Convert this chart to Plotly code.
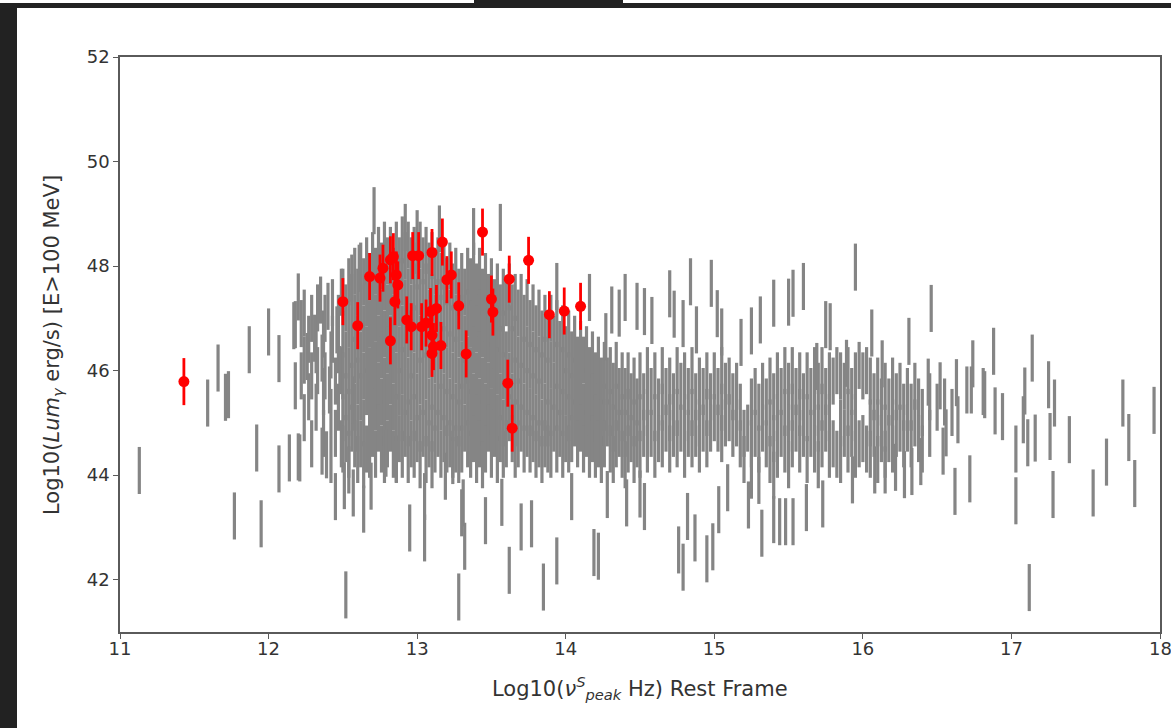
import plotly.graph_objects as go

# ---------------- data ----------------
# dense grey cloud: one x position per column, list of bar centres per column
grey_col_x = [
    12.22, 12.24, 12.27, 12.29, 12.32, 12.33, 12.37, 12.38, 12.42, 12.43, 12.45, 12.47, 12.49,
    12.50, 12.52, 12.54, 12.56, 12.58, 12.60, 12.62, 12.64, 12.66, 12.68, 12.70, 12.72, 12.74,
    12.76, 12.78, 12.80, 12.82, 12.84, 12.86, 12.88, 12.90, 12.92, 12.94, 12.96, 12.98, 13.00,
    13.02, 13.04, 13.06, 13.08, 13.10, 13.12, 13.14, 13.16, 13.18, 13.20, 13.22, 13.24, 13.26,
    13.28, 13.30, 13.32, 13.34,
    13.36, 13.38, 13.40, 13.42, 13.44, 13.46, 13.48, 13.50, 13.52, 13.54, 13.56, 13.58, 13.60,
    13.62, 13.64, 13.66, 13.68, 13.70, 13.72, 13.74, 13.76, 13.78, 13.80, 13.82, 13.84, 13.86,
    13.88, 13.90, 13.92, 13.94, 13.96, 13.98, 14.00, 14.02, 14.04, 14.06, 14.08, 14.10,
    14.12, 14.14, 14.16, 14.18, 14.20, 14.22, 14.24, 14.26, 14.28, 14.30, 14.32, 14.34, 14.36,
    14.38, 14.40, 14.42, 14.44, 14.46, 14.48,
    14.500, 14.525, 14.550, 14.575, 14.600, 14.625, 14.650, 14.675, 14.700, 14.725, 14.750,
    14.775, 14.800, 14.825, 14.850, 14.875, 14.900, 14.925, 14.950, 14.975, 15.000, 15.025,
    15.050, 15.075, 15.100, 15.125, 15.150, 15.175, 15.200, 15.225, 15.250, 15.275, 15.300,
    15.325, 15.350, 15.375, 15.400, 15.425, 15.450, 15.475, 15.500, 15.525, 15.550, 15.575,
    15.600, 15.625, 15.650, 15.675, 15.700, 15.725, 15.750, 15.775, 15.800, 15.825, 15.850,
    15.875, 15.900, 15.925, 15.950, 15.975, 16.000, 16.025, 16.050, 16.075, 16.100, 16.125,
    16.150, 16.175, 16.200, 16.225, 16.250, 16.275, 16.300, 16.325, 16.350, 16.375, 16.400,
    16.450, 16.500, 16.550, 16.600,
]
grey_col_y = [
    [46.9, 45.9], [47.1, 46.2, 45.1], [46.6, 45.5], [47.0, 45.9, 44.6], [46.4, 45.3],
    [47.2, 46.0], [46.7, 45.6, 44.8], [47.0, 45.9], [46.3, 45.2, 44.3], [47.3, 46.6],
    [45.8, 44.8], [47.0, 46.4, 45.3], [47.5, 46.0, 44.6],
    [47.5, 46.7, 45.9, 45.1, 44.5], [47.2, 46.3, 45.5, 44.7], [47.7, 46.9, 46.0, 45.2, 44.4],
    [47.4, 46.5, 45.7, 44.9], [47.9, 47.0, 46.2, 45.3, 44.6], [47.5, 46.6, 45.8, 44.9, 44.3],
    [48.0, 47.2, 46.3, 45.5, 44.6], [47.7, 46.8, 45.9, 45.0], [48.1, 47.3, 46.4, 45.6, 44.5],
    [47.8, 46.9, 46.0, 45.2, 44.4], [48.2, 47.4, 46.5, 45.6, 44.8], [47.9, 47.0, 46.1, 45.3, 44.4],
    [48.3, 47.5, 46.6, 45.7, 44.9], [48.0, 47.1, 46.3, 45.4, 44.5],
    [48.4, 47.6, 46.7, 45.8, 45.0, 44.3], [48.1, 47.2, 46.4, 45.5, 44.6],
    [48.3, 47.5, 46.6, 45.8, 44.9], [47.9, 47.0, 46.2, 45.3, 44.4],
    [48.4, 47.6, 46.8, 45.9, 45.1, 44.3], [48.1, 47.3, 46.4, 45.6, 44.7],
    [48.5, 47.7, 46.8, 46.0, 45.1, 44.4], [48.2, 47.3, 46.5, 45.6, 44.8],
    [48.4, 47.5, 46.7, 45.8, 45.0, 44.3], [48.1, 47.2, 46.3, 45.5, 44.6],
    [48.3, 47.6, 46.8, 45.9, 45.1, 44.4], [48.0, 47.2, 46.4, 45.5, 44.7],
    [48.4, 47.5, 46.6, 45.8, 44.9, 44.2], [48.1, 47.3, 46.5, 45.6, 44.8],
    [48.3, 47.6, 46.7, 45.9, 45.0, 44.3], [48.0, 47.1, 46.3, 45.4, 44.6],
    [48.2, 47.4, 46.6, 45.7, 44.9, 44.2], [47.9, 47.0, 46.2, 45.3, 44.5],
    [48.1, 47.3, 46.5, 45.6, 44.8], [47.8, 47.0, 46.1, 45.3, 44.4],
    [48.0, 47.2, 46.4, 45.5, 44.7], [47.7, 46.9, 46.0, 45.2, 44.5],
    [48.0, 47.1, 46.3, 45.4, 44.6], [47.6, 46.8, 45.9, 45.1, 44.4],
    [47.9, 47.0, 46.2, 45.3, 44.5], [47.5, 46.7, 45.8, 45.0, 44.3],
    [47.8, 47.0, 46.1, 45.3, 44.5], [47.5, 46.6, 45.8, 44.9], [47.9, 47.1, 46.2, 45.4, 44.6],
    [47.7, 46.9, 46.0, 45.2, 44.4], [48.0, 47.2, 46.4, 45.5, 44.7], [47.6, 46.8, 45.9, 45.1, 44.3],
    [47.9, 47.1, 46.3, 45.4, 44.6], [47.5, 46.7, 45.8, 45.0, 44.2], [47.8, 47.0, 46.2, 45.3, 44.5],
    [47.4, 46.6, 45.7, 44.9], [47.7, 46.9, 46.1, 45.2, 44.4], [47.3, 46.5, 45.6, 44.8],
    [47.6, 46.8, 46.0, 45.1, 44.3], [47.2, 46.4, 45.5, 44.7], [47.5, 46.7, 45.9, 45.0, 44.4],
    [47.3, 46.3, 45.4, 44.6], [47.6, 46.8, 45.9, 45.1], [47.2, 46.4, 45.5, 44.7],
    [47.4, 46.6, 45.8, 45.0, 44.4], [47.1, 46.2, 45.4, 44.6], [47.4, 46.5, 45.7, 44.9],
    [47.0, 46.2, 45.3, 44.5], [47.3, 46.4, 45.6, 44.8], [46.9, 46.1, 45.2, 44.5],
    [47.2, 46.3, 45.5, 44.7], [46.8, 46.0, 45.1, 44.4], [47.1, 46.2, 45.4, 44.6],
    [46.7, 45.9, 45.0, 44.3], [47.0, 46.2, 45.3, 44.6], [46.6, 45.8, 45.0, 44.5],
    [47.0, 46.1, 45.2, 44.4], [46.6, 45.7, 44.9], [46.9, 46.1, 45.3, 44.5], [46.5, 45.6, 44.8],
    [46.8, 46.0, 45.2, 44.4], [46.4, 45.6, 44.7], [46.7, 45.9, 45.1, 44.5], [46.3, 45.5, 44.7],
    [46.6, 45.8, 45.0], [46.2, 45.4, 44.6], [46.5, 45.7, 44.9],
    [46.2, 45.3, 44.5], [46.4, 45.6, 44.8], [46.0, 45.2, 44.4], [46.3, 45.5, 44.7],
    [45.9, 45.1, 44.4], [46.2, 45.4, 44.6], [45.8, 45.0, 44.3], [46.1, 45.3, 44.6],
    [45.8, 45.0], [46.0, 45.2, 44.5], [45.7, 44.9, 44.3], [46.1, 45.3, 44.6], [45.6, 44.8],
    [45.9, 45.1, 44.4], [45.6, 44.8, 44.2], [45.9, 45.2, 44.5], [45.5, 44.7], [45.8, 45.0, 44.3],
    [45.4, 44.6],
    [45.9, 45.1, 44.4], [45.5, 44.8], [46.0, 45.2, 44.5], [45.6, 44.8], [45.9, 45.1, 44.4],
    [45.4, 44.7], [46.0, 45.3, 44.6], [45.6, 44.9], [45.8, 45.1, 44.5], [45.5, 44.8],
    [46.0, 45.2, 44.6], [45.7, 44.9], [45.9, 45.1, 44.4], [45.6, 44.8], [46.0, 45.2, 44.6],
    [45.5, 44.8], [45.8, 45.0, 44.5], [45.6, 44.9], [45.9, 45.2, 44.6], [45.5, 44.9],
    [45.9, 45.1], [45.6, 44.9], [46.0, 45.3, 44.7], [45.7, 45.0], [45.8, 45.1], [45.5, 44.8],
    [45.7, 45.0], [45.3, 44.6], [44.8, 44.3], [44.9], [45.4, 44.6, 44.0], [45.6, 44.8],
    [45.3, 44.5, 43.9], [45.7, 44.9], [45.4, 44.6], [45.8, 45.0, 44.3], [45.5, 44.7, 44.0],
    [45.9, 45.1, 44.4], [45.6, 44.8], [46.0, 45.2, 44.5], [45.7, 44.9, 44.2], [46.0, 45.3, 44.6],
    [45.6, 44.9], [45.9, 45.2, 44.5], [45.5, 44.8], [45.9, 45.1, 44.3], [45.6, 44.8],
    [46.0, 45.2, 44.5], [45.7, 44.9, 44.2], [46.0, 45.3, 44.6], [45.6, 44.9], [45.9, 45.1, 44.4],
    [45.8, 44.6], [46.0, 44.4], [45.9, 45.0, 44.3], [45.7, 44.8], [46.0, 45.2, 44.5],
    [45.6, 44.8], [45.9, 45.1, 44.4], [46.1, 44.6], [45.9, 44.7], [46.0, 44.5],
    [45.8, 45.0, 44.4], [45.5, 44.8], [45.8, 45.0, 44.3], [45.4, 44.7], [45.7, 44.9, 44.4],
    [45.4, 44.7], [45.8, 45.0, 44.5], [45.5, 44.8], [45.7, 44.9], [45.3, 44.6], [45.6, 44.9],
    [45.3, 44.6], [45.7, 45.0], [45.4, 44.7], [45.2, 44.5], [45.5, 44.8], [45.3], [45.4], [45.2],
]

# isolated grey sources (outside the dense cloud)
grey_out_x = [
    11.13, 11.59, 11.66, 11.71, 11.73, 11.77, 11.87, 11.92, 11.95, 12.00, 12.07, 12.07, 12.14,
    12.18, 12.18, 12.20, 12.20,
    12.71, 12.92, 13.00, 13.15, 12.35, 12.17, 12.26, 12.31, 12.36, 12.40, 12.41, 12.46, 12.48,
    12.56, 12.61, 12.57, 12.21, 12.36, 12.39, 12.45, 12.51, 12.54, 12.57, 12.64, 12.64, 12.69,
    12.52, 13.28, 12.79, 12.86, 12.95, 13.05, 13.05, 13.19, 13.31, 13.32, 13.24,
    13.38, 13.56, 13.94, 14.16, 14.40, 14.48, 14.31, 14.36, 14.27, 13.46, 13.62, 13.70, 13.77,
    13.85, 13.94, 14.19, 14.22, 13.57, 14.04, 14.28, 14.41, 13.30, 14.50,
    14.53, 14.58, 14.70, 14.73, 14.79, 14.84, 14.88, 14.98, 15.02, 15.05, 15.18, 15.25, 15.31,
    15.40, 15.50, 15.53, 15.60, 14.53, 14.76, 14.79, 14.82, 14.87, 14.95, 14.99, 15.03, 15.09,
    15.23, 15.32, 15.40, 15.44, 15.48, 15.53, 15.62, 14.50,
    15.95, 15.75, 15.78, 16.06, 16.31, 16.46, 16.13, 15.89, 15.69, 16.44, 16.52, 16.63, 16.74,
    16.70, 15.73, 15.93, 16.08, 16.15, 16.22, 16.28, 16.33, 16.39, 16.54, 16.62, 16.72, 16.64,
    16.56,
    16.73, 16.81, 16.82, 16.88, 16.89, 16.94, 17.03, 17.03, 17.09, 17.08, 17.11, 17.14, 17.16,
    17.12, 17.25, 17.29, 17.26, 17.28, 17.39, 17.55, 17.64, 17.75, 17.79, 17.83, 17.96,
]
grey_out_y = [
    44.09, 45.38, 46.05, 45.49, 45.54, 43.22, 46.40, 44.52, 43.07, 46.74, 46.23, 44.12, 44.33,
    46.88, 45.71, 47.41, 44.35,
    49.06, 48.74, 48.62, 48.71, 47.35, 46.86, 46.27, 46.62, 46.24, 47.23, 45.63, 46.78, 46.02,
    47.77, 47.96, 45.44, 44.33, 44.46, 44.39, 43.59, 43.80, 44.10, 43.66, 44.20, 43.35, 43.79,
    41.71, 41.67, 44.42, 44.31, 42.99, 43.59, 42.80, 43.98, 43.47, 42.64, 44.28,
    48.66, 48.74, 47.61, 47.40, 47.40, 47.23, 47.16, 47.10, 46.65, 43.13, 42.18, 43.01, 43.07,
    41.86, 42.36, 42.52, 42.45, 43.48, 43.59, 43.63, 43.47, 43.28, 40.55,
    47.13, 46.96, 47.47, 47.08, 46.90, 47.70, 46.78, 47.67, 47.09, 46.74, 46.54, 46.76, 46.97,
    47.29, 47.31, 47.48, 47.61, 43.40, 42.57, 42.24, 43.21, 42.80, 42.40, 42.63, 43.34, 43.76,
    43.43, 42.89, 43.15, 43.11, 43.11, 43.11, 43.38, 43.64,
    47.98, 46.88, 46.84, 46.72, 46.56, 47.19, 46.13, 46.14, 46.08, 45.78, 45.71, 45.77, 46.13,
    45.63, 43.45, 43.91, 44.10, 44.10, 44.15, 44.01, 44.07, 44.26, 44.46, 43.69, 43.93, 45.06,
    44.81,
    45.63, 45.60, 45.54, 46.37, 45.23, 45.12, 44.50, 43.51, 45.61, 45.06, 44.62, 46.24, 44.71,
    41.85, 45.73, 45.38, 44.74, 43.63, 44.68, 43.66, 44.25, 45.38, 44.72, 43.84, 45.24,
]
grey_err = 0.45

# highlighted (red) sources
red_x = [
    11.43, 12.50, 12.60, 12.68, 12.75, 12.77, 12.82, 12.84, 12.86, 12.87, 12.85, 12.82, 12.97,
    13.01, 13.10, 13.17, 13.20, 13.23, 13.28, 13.33, 12.93, 12.96, 13.03, 13.06, 13.09, 13.13,
    13.10, 13.11, 13.16, 13.10, 13.44, 13.50, 13.51, 13.62, 13.75, 13.61, 13.64, 13.89, 13.99,
    14.10,
]
red_y = [
    45.79, 47.32, 46.86, 47.80, 47.77, 47.96, 48.12, 48.18, 47.83, 47.64, 47.32, 46.57, 48.20,
    48.20, 48.26, 48.46, 47.74, 47.83, 47.24, 46.32, 46.97, 46.84, 46.84, 46.91, 47.13, 47.19,
    46.68, 46.46, 46.48, 46.33, 48.65, 47.37, 47.12, 47.75, 48.11, 45.76, 44.90, 47.07, 47.14,
    47.23,
]
red_err = 0.45

x_ticks = [11, 12, 13, 14, 15, 16, 17, 18]
y_ticks = [42, 44, 46, 48, 50, 52]

# ---------------- build ----------------
gx, gy = [], []
for cx, ys in zip(grey_col_x, grey_col_y):
    for v in ys:
        gx.append(cx)
        gy.append(v)
gx += grey_out_x
gy += grey_out_y

fig = go.Figure()
fig.add_trace(go.Scatter(
    x=gx, y=gy, mode="markers",
    marker=dict(size=1, color="rgba(0,0,0,0)"),
    error_y=dict(type="constant", value=grey_err, color="#858585",
                 thickness=3.2, width=0),
    hoverinfo="skip", showlegend=False,
))
fig.add_trace(go.Scatter(
    x=red_x, y=red_y, mode="markers",
    marker=dict(size=11, color="#ff0000"),
    error_y=dict(type="constant", value=red_err, color="#ff0000",
                 thickness=2.8, width=0),
    showlegend=False,
))

L, R, T, B = 120, 11, 57, 96
W, H = 1171, 728
pw, ph = W - L - R, H - T - B

def px(xp):
    return (xp - L) / pw

def py(yp):
    return (H - B - yp) / ph

tick_font = dict(family="DejaVu Sans", size=18, color="#333333")
axis_common = dict(showgrid=False, zeroline=False, showline=True, mirror=True,
                   automargin=False,
                   linecolor="#5a5a5a", linewidth=1.6, ticks="outside", ticklen=5,
                   tickwidth=1.4, tickcolor="#5a5a5a", tickfont=tick_font)

fig.update_layout(
    width=W, height=H,
    margin=dict(l=L, r=R, t=T, b=B),
    paper_bgcolor="white", plot_bgcolor="white",
    xaxis=dict(range=[11, 18], tickvals=x_ticks, ticklabelstandoff=-5, **axis_common),
    yaxis=dict(range=[41, 52], tickvals=y_ticks, **axis_common),
    shapes=[
        dict(type="rect", xref="paper", yref="paper", x0=px(0), x1=px(17), y0=py(H), y1=py(3),
             fillcolor="#222222", line=dict(width=0), layer="above"),
        dict(type="rect", xref="paper", yref="paper", x0=px(0), x1=px(W), y0=py(8), y1=py(3),
             fillcolor="#222222", line=dict(width=0), layer="above"),
        dict(type="rect", xref="paper", yref="paper", x0=px(474), x1=px(623), y0=py(8), y1=py(0),
             fillcolor="#222222", line=dict(width=0), layer="above"),
    ],
    annotations=[
        # last x tick label, cut by the right edge of the picture as in the reference
        dict(text=str(x_ticks[-1]), xref="x", yref="paper", x=x_ticks[-1], y=py(648),
             xanchor="center", yanchor="middle", showarrow=False, font=tick_font),
        dict(text="Log10(<i>ν</i><sup><i>S</i></sup><sub><i>peak</i></sub> Hz) Rest Frame",
             xref="paper", yref="paper", x=px(640), y=py(688), xanchor="center", yanchor="middle",
             showarrow=False, font=dict(family="DejaVu Sans", size=21, color="#333333")),
        dict(text="Log10(<i>Lum</i><sub><i>γ</i></sub> erg/s) [E>100 MeV]",
             xref="paper", yref="paper", x=px(53), y=py(345), xanchor="center", yanchor="middle",
             textangle=-90, showarrow=False,
             font=dict(family="DejaVu Sans", size=21, color="#333333")),
    ],
)

fig.write_html(
    "out.html",
    config={"displayModeBar": False},
    post_script="document.body.style.margin='0';document.body.style.overflow='hidden';",
)
